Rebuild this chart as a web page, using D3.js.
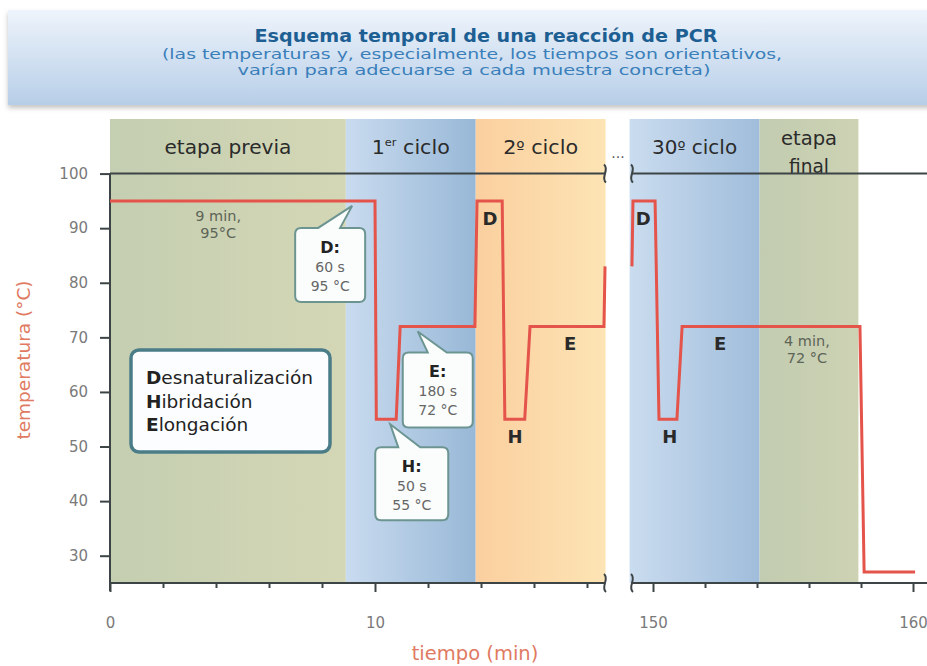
<!DOCTYPE html>
<html>
<head>
<meta charset="utf-8">
<script src="https://cdn.jsdelivr.net/npm/d3@7"></script>
<style>
body { margin: 0; background: #fff; }
svg text { font-family: "DejaVu Sans", "Liberation Sans", sans-serif; }
</style>
</head>
<body>
<div id="chart"></div>
<script>
// --- datos ---
const stageNames = ["etapa previa", "1er ciclo", "2º ciclo", "30º ciclo", "etapa final"];
const stageStart = [0, 8.9, 13.8, 149.1, 154.1];
const stageEnd = [8.9, 13.8, 18.7, 154.1, 157.9];

// perfil de temperatura, tramo 1 (0-18 min) y tramo 2 (149-160 min)
const timeA = [0, 10, 10.05, 10.8, 10.95, 13.77, 13.85, 14.8, 14.9, 15.65, 15.85, 18.64, 18.68];
const tempA = [95, 95, 55, 55, 72, 72, 95, 95, 55, 55, 72, 72, 83];
const timeB = [149.19, 149.23, 150.08, 150.23, 150.92, 151.12, 157.96, 158.12, 160.08];
const tempB = [83, 95, 95, 55, 55, 72, 72, 27, 27];

const yTicks = [30, 40, 50, 60, 70, 80, 90, 100];
const xTicksA = [0, 2, 4, 6, 8, 10, 12, 14, 16, 18];
const xTicksB = [150, 152, 154, 156, 158, 160];
const xLabels = [0, 10, 150, 160];

const calloutLetters = ["D:", "E:", "H:"];
const calloutTime = ["60 s", "180 s", "50 s"];
const calloutTemp = ["95 °C", "72 °C", "55 °C"];
const calloutAt = [[9.1, 95], [11.5, 72], [10.5, 55]];

const phaseLetters = ["D", "H", "E", "D", "H", "E"];
const phaseAt = [[14.34, 95], [15.28, 55], [17.36, 72], [149.62, 95], [150.65, 55], [152.58, 72]];

const holdNotes = [["9 min,", "95°C"], ["4 min,", "72 °C"]];
const holdAt = [[4.08, 95], [155.92, 72]];

const legendItems = ["Desnaturalización", "Hibridación", "Elongación"];

const title = "Esquema temporal de una reacción de PCR";
const subtitle = ["(las temperaturas y, especialmente, los tiempos son orientativos,",
                  "varían para adecuarse a cada muestra concreta)"];

// --- layout ---
const width = 927, height = 666;
const svg = d3.select("#chart").append("svg")
    .attr("width", width)
    .attr("height", height);

const xA = d3.scaleLinear().domain([0, 10]).range([110, 375]);
const xB = d3.scaleLinear().domain([150, 160]).range([653, 913]);
const x = t => t < 100 ? xA(t) : xB(t);
const y = d3.scaleLinear().domain([25, 110]).range([583, 119]);

const defs = svg.append("defs");
function hGrad(id, c1, c2) {
    const g = defs.append("linearGradient").attr("id", id)
        .attr("x1", "0%").attr("x2", "100%").attr("y1", "0%").attr("y2", "0%");
    g.append("stop").attr("offset", "0%").attr("stop-color", c1);
    g.append("stop").attr("offset", "100%").attr("stop-color", c2);
}
hGrad("g0", "#c4ceb1", "#d4d7b5");
hGrad("g1", "#c9dbef", "#98b8d7");
hGrad("g2", "#fbcf9f", "#fde4b4");
hGrad("g3", "#cadcef", "#a0bddb");
hGrad("g4", "#c2ccb0", "#cdd2b3");

const tg = defs.append("linearGradient").attr("id", "gt")
    .attr("x1", "0%").attr("x2", "0%").attr("y1", "0%").attr("y2", "100%");
tg.append("stop").attr("offset", "0%").attr("stop-color", "#eef4fb");
tg.append("stop").attr("offset", "100%").attr("stop-color", "#b7cee8");

const sh = defs.append("filter").attr("id", "shadow").attr("x", "-5%").attr("y", "-10%").attr("width", "110%").attr("height", "130%");
sh.append("feDropShadow").attr("dx", 0).attr("dy", 3).attr("stdDeviation", 2.5).attr("flood-color", "#888").attr("flood-opacity", 0.5);

// cabecera
svg.append("rect")
    .attr("x", 8).attr("y", 10).attr("width", width).attr("height", 95)
    .attr("fill", "url(#gt)")
    .attr("filter", "url(#shadow)");

svg.append("text")
    .attr("x", 486).attr("y", 42)
    .attr("text-anchor", "middle")
    .attr("font-size", 18).attr("font-weight", "bold")
    .attr("fill", "#1d5f93")
    .attr("textLength", 463).attr("lengthAdjust", "spacingAndGlyphs")
    .text(title);

subtitle.forEach((s, i) => {
    svg.append("text")
        .attr("x", i == 0 ? 472 : 474).attr("y", 59 + i * 16)
        .attr("text-anchor", "middle")
        .attr("font-size", 14)
        .attr("fill", "#3a7fba")
        .attr("textLength", i == 0 ? 620 : 473).attr("lengthAdjust", "spacingAndGlyphs")
        .text(s);
});

// bandas de etapas
svg.selectAll("rect.stage")
    .data(stageNames)
    .enter().append("rect")
    .attr("class", "stage")
    .attr("x", (d, i) => x(stageStart[i]))
    .attr("width", (d, i) => x(stageEnd[i]) - x(stageStart[i]))
    .attr("y", y(110))
    .attr("height", y(25) - y(110))
    .attr("fill", (d, i) => `url(#g${i})`);

// rótulos de etapas (anchos medidos en la referencia)
const labelWidth = [127, 78, 75, 85];
const labelG = svg.append("g").attr("fill", "#2b2b2b").attr("font-size", 20);
stageNames.forEach((name, i) => {
    const cx = (x(stageStart[i]) + x(stageEnd[i])) / 2;
    if (name == "etapa final") {
        labelG.append("text").attr("x", cx).attr("y", 145).attr("text-anchor", "middle")
            .attr("textLength", 56).attr("lengthAdjust", "spacingAndGlyphs").text("etapa");
        labelG.append("text").attr("x", cx).attr("y", 173).attr("text-anchor", "middle")
            .attr("textLength", 40).attr("lengthAdjust", "spacingAndGlyphs").text("final");
        return;
    }
    const m = name.match(/^(\d+)(er|º)(.*)$/);
    const t = labelG.append("text").attr("x", cx).attr("y", 154).attr("text-anchor", "middle")
        .attr("textLength", labelWidth[i]).attr("lengthAdjust", "spacingAndGlyphs");
    if (m && m[2] == "er") {
        t.append("tspan").text(m[1]);
        t.append("tspan").attr("font-size", 11).attr("dy", -8).text(m[2]);
        t.append("tspan").attr("dy", 8).text(m[3]);
    } else if (m) {
        t.append("tspan").text(m[1]);
        t.append("tspan").attr("font-size", 17).text(m[2]);
        t.append("tspan").text(m[3]);
    } else {
        t.text(name);
    }
});

// línea de 100 ºC y eje inferior con corte
const lineCol = "#3d4446";
[[x(0), 605], [632, width]].forEach(r => {
    [y(100), y(25)].forEach(yy => {
        svg.append("line").attr("x1", r[0]).attr("x2", r[1]).attr("y1", yy).attr("y2", yy)
            .attr("stroke", lineCol).attr("stroke-width", 2);
    });
});

function breakMark(bx, by) {
    svg.append("path")
        .attr("d", `M${bx - 1},${by - 9} C${bx + 5},${by - 4} ${bx - 5},${by + 4} ${bx + 1},${by + 9}`)
        .attr("fill", "none").attr("stroke", lineCol).attr("stroke-width", 2);
}
[605, 632].forEach(bx => { breakMark(bx, y(100)); breakMark(bx, y(25)); });

svg.append("text").attr("x", 618).attr("y", 158).attr("text-anchor", "middle")
    .attr("fill", "#555").attr("font-size", 14).text("...");

// ejes
const yAxis = svg.append("g")
    .attr("transform", `translate(${x(0)},0)`)
    .call(d3.axisLeft(y).tickValues(yTicks).tickSize(10).tickPadding(12));
yAxis.select(".domain").remove();
yAxis.selectAll(".tick line").attr("stroke", lineCol).attr("stroke-width", 2);
yAxis.selectAll(".tick text").attr("fill", "#7a7a7a").attr("font-size", 15)
    .style("font-family", '"DejaVu Sans", sans-serif');
svg.append("line").attr("x1", x(0)).attr("x2", x(0)).attr("y1", y(100)).attr("y2", y(25) + 8)
    .attr("stroke", lineCol).attr("stroke-width", 2);

function xAxisPart(scale, ticks) {
    const g = svg.append("g")
        .attr("transform", `translate(0,${y(25)})`)
        .call(d3.axisBottom(scale).tickValues(ticks).tickSize(5).tickPadding(29)
            .tickFormat(d => xLabels.includes(d) ? d : ""));
    g.select(".domain").remove();
    g.selectAll(".tick line").attr("stroke", lineCol).attr("stroke-width", 2)
        .attr("y2", d => xLabels.includes(d) ? 9 : 5);
    g.selectAll(".tick text").attr("fill", "#7a7a7a").attr("font-size", 15)
        .style("font-family", '"DejaVu Sans", sans-serif');
}
xAxisPart(xA, xTicksA);
xAxisPart(xB, xTicksB);

// títulos de ejes
svg.append("text")
    .attr("transform", "translate(30,360) rotate(-90)")
    .attr("text-anchor", "middle")
    .attr("fill", "#e07a62").attr("font-size", 18.5)
    .text("temperatura (°C)");
svg.append("text")
    .attr("x", 475).attr("y", 660)
    .attr("text-anchor", "middle")
    .attr("fill", "#e07a62").attr("font-size", 19.5)
    .text("tiempo (min)");

// perfil de temperatura
const line = d3.line().x(d => x(d[0])).y(d => y(d[1]));
[d3.zip(timeA, tempA), d3.zip(timeB, tempB)].forEach(seg => {
    svg.append("path")
        .datum(seg)
        .attr("d", line)
        .attr("fill", "none")
        .attr("stroke", "#e4544b")
        .attr("stroke-width", 3)
        .attr("stroke-linejoin", "miter");
});

// notas de mantenimiento
holdNotes.forEach((lines, i) => {
    lines.forEach((s, j) => {
        svg.append("text")
            .attr("x", x(holdAt[i][0])).attr("y", y(holdAt[i][1]) + 20 + j * 17)
            .attr("text-anchor", "middle")
            .attr("fill", "#5d6458").attr("font-size", 14.5)
            .text(s);
    });
});

// letras de fase
svg.selectAll("text.phase")
    .data(phaseLetters)
    .enter().append("text")
    .attr("class", "phase")
    .attr("x", (d, i) => x(phaseAt[i][0]))
    .attr("y", (d, i) => y(phaseAt[i][1]) + 24)
    .attr("text-anchor", "middle")
    .attr("font-size", 18).attr("font-weight", "bold")
    .attr("fill", "#2a2a2a")
    .text(d => d);

// bocadillos: [dx, dy, ancho, alto, base1, base2] respecto a la punta
const calloutBox = [[-57, 22, 70, 74, -34, -12], [-15, 21, 70, 75, 10, 29], [-15, 23, 73, 73, 8, 30]];
const calloutNudge = [[1, 5], [3, 5], [2, 5]];
function calloutPath(tx, ty, b) {
    const x0 = tx + b[0], y0 = ty + b[1], w = b[2], h = b[3], r = 6;
    return `M${x0 + r},${y0} L${tx + b[4]},${y0} L${tx},${ty} L${tx + b[5]},${y0} L${x0 + w - r},${y0}` +
        ` Q${x0 + w},${y0} ${x0 + w},${y0 + r} L${x0 + w},${y0 + h - r} Q${x0 + w},${y0 + h} ${x0 + w - r},${y0 + h}` +
        ` L${x0 + r},${y0 + h} Q${x0},${y0 + h} ${x0},${y0 + h - r} L${x0},${y0 + r} Q${x0},${y0} ${x0 + r},${y0} Z`;
}
calloutLetters.forEach((letter, i) => {
    const tx = x(calloutAt[i][0]) + calloutNudge[i][0];
    const ty = y(calloutAt[i][1]) + calloutNudge[i][1];
    const b = calloutBox[i];
    svg.append("path")
        .attr("d", calloutPath(tx, ty, b))
        .attr("fill", "#fbfdfd")
        .attr("stroke", "#6c9592").attr("stroke-width", 2);
    const cx = tx + b[0] + b[2] / 2, top = ty + b[1];
    svg.append("text").attr("x", cx).attr("y", top + 25).attr("text-anchor", "middle")
        .attr("font-size", 16).attr("font-weight", "bold").attr("fill", "#222").text(letter);
    svg.append("text").attr("x", cx).attr("y", top + 44).attr("text-anchor", "middle")
        .attr("font-size", 14).attr("fill", "#666").text(calloutTime[i]);
    svg.append("text").attr("x", cx).attr("y", top + 63).attr("text-anchor", "middle")
        .attr("font-size", 14).attr("fill", "#666").text(calloutTemp[i]);
});

// leyenda
svg.append("rect")
    .attr("x", 131).attr("y", 350).attr("width", 199).attr("height", 102).attr("rx", 8)
    .attr("fill", "#fbfdfe").attr("stroke", "#4b7d89").attr("stroke-width", 3.5);
legendItems.forEach((s, i) => {
    const t = svg.append("text").attr("x", 146).attr("y", 384 + i * 23.5)
        .attr("font-size", 18.5).attr("fill", "#222");
    t.append("tspan").attr("font-weight", "bold").text(s[0]);
    t.append("tspan").text(s.slice(1));
});
</script>
</body>
</html>
